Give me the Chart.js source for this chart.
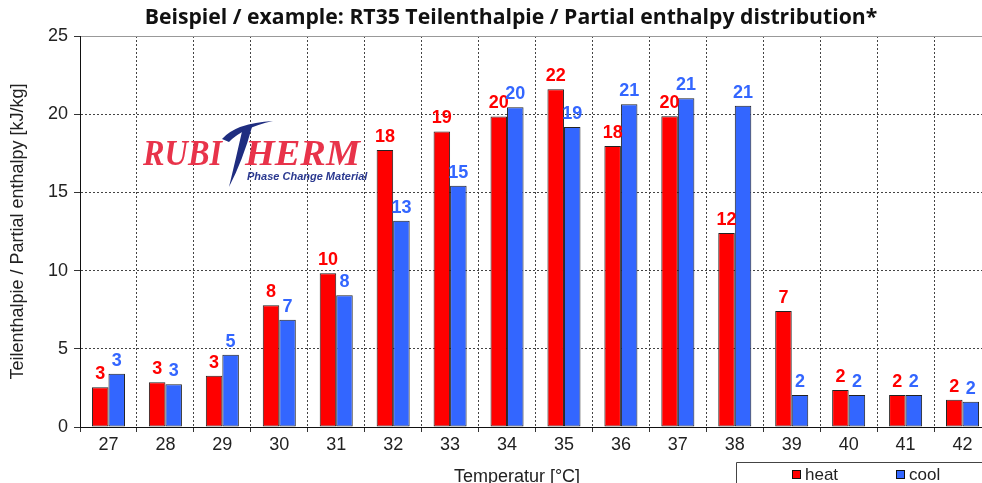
<!DOCTYPE html>
<html>
<head>
<meta charset="utf-8">
<script src="https://cdn.jsdelivr.net/npm/chart.js@4.4.0/dist/chart.umd.min.js"></script>
<style>
  html, body { margin: 0; padding: 0; background: #fff; }
  #wrap { width: 982px; height: 483px; overflow: hidden; }
</style>
</head>
<body>
<div id="wrap"><canvas id="enthalpyChart" width="992" height="483"></canvas></div>
<script>
const temperatures = ['27', '28', '29', '30', '31', '32', '33', '34', '35', '36', '37', '38', '39', '40', '41', '42'];
const heatValues = [2.54, 2.86, 3.28, 7.78, 9.83, 17.71, 18.9, 19.86, 21.59, 17.97, 19.87, 12.4, 7.42, 2.37, 2.05, 1.75];
const coolValues = [3.41, 2.73, 4.62, 6.86, 8.42, 13.19, 15.43, 20.45, 19.18, 20.63, 21.02, 20.54, 2.05, 2.05, 2.05, 1.62];
const yTicks = [0, 5, 10, 15, 20, 25];
const titleText = 'Beispiel / example: RT35 Teilenthalpie / Partial enthalpy distribution*';
const xTitle = 'Temperatur [°C]';

const HEAT = '#ff0000';
const COOL = '#3366ff';
const FONT = '"Liberation Sans", Arial, sans-serif';

// title and x-axis title drawn by hand so they sit where the original has them
const chartTitle = {
  id: 'chartTitle',
  afterDraw(chart) {
    const ctx = chart.ctx;
    ctx.save();
    ctx.font = 'bold 20px "Open Sans", sans-serif';
    const size = 20 * 733 / ctx.measureText(titleText).width;
    ctx.font = 'bold ' + size.toFixed(1) + 'px "Open Sans", sans-serif';
    ctx.fillStyle = '#111';
    ctx.textAlign = 'center';
    ctx.textBaseline = 'middle';
    ctx.fillText(titleText, 511, 18);

    ctx.font = '18px ' + FONT;
    ctx.fillStyle = '#222';
    ctx.textBaseline = 'alphabetic';
    ctx.fillText(xTitle, 517, 482);
    ctx.restore();
  }
};

// Rubitherm logo behind the bars
const logo = {
  id: 'logo',
  beforeDatasetsDraw(chart) {
    const ctx = chart.ctx;
    ctx.save();
    ctx.fillStyle = '#e8334a';
    ctx.font = 'bold italic 36px "Liberation Serif", serif';
    ctx.textBaseline = 'alphabetic';
    let w = ctx.measureText('RUBI').width;
    ctx.save();
    ctx.translate(143, 165);
    ctx.scale(79 / w, 1);
    ctx.fillText('RUBI', 0, 0);
    ctx.restore();
    w = ctx.measureText('HERM').width;
    ctx.save();
    ctx.translate(245, 165);
    ctx.scale(115 / w, 1);
    ctx.fillText('HERM', 0, 0);
    ctx.restore();

    // blue swoosh "T"
    ctx.fillStyle = '#1f2d80';
    ctx.beginPath();
    ctx.moveTo(222, 139);
    ctx.quadraticCurveTo(236, 123, 273, 121);
    ctx.quadraticCurveTo(242, 128, 229, 142);
    ctx.closePath();
    ctx.fill();
    ctx.beginPath();
    ctx.moveTo(243, 127);
    ctx.lineTo(252, 127);
    ctx.quadraticCurveTo(243, 160, 229, 187);
    ctx.quadraticCurveTo(236, 158, 243, 127);
    ctx.closePath();
    ctx.fill();

    ctx.font = 'italic bold 11px ' + FONT;
    ctx.fillStyle = '#2b3990';
    ctx.fillText('Phase Change Material', 247, 180);
    ctx.restore();
  }
};

const valueLabels = {
  id: 'valueLabels',
  afterDatasetsDraw(chart) {
    const ctx = chart.ctx;
    ctx.save();
    ctx.font = 'bold 18px ' + FONT;
    ctx.textAlign = 'center';
    ctx.textBaseline = 'alphabetic';
    chart.data.datasets.forEach((ds, i) => {
      ctx.fillStyle = ds.backgroundColor;
      chart.getDatasetMeta(i).data.forEach((bar, j) => {
        ctx.fillText(String(Math.round(ds.data[j])), bar.x, bar.y - 8);
      });
    });
    ctx.restore();
  }
};

// legend box at bottom right, partly cut off like the original
const legendBox = {
  id: 'legendBox',
  afterDraw(chart) {
    const ctx = chart.ctx;
    ctx.save();
    ctx.strokeStyle = '#444';
    ctx.lineWidth = 1;
    ctx.beginPath();
    ctx.moveTo(736.5, 483);
    ctx.lineTo(736.5, 462.5);
    ctx.lineTo(992, 462.5);
    ctx.stroke();
    const items = [['heat', HEAT, 792], ['cool', COOL, 896]];
    ctx.font = '17px ' + FONT;
    ctx.textBaseline = 'alphabetic';
    items.forEach(([label, color, x]) => {
      ctx.fillStyle = color;
      ctx.fillRect(x, 470, 9, 9);
      ctx.strokeStyle = '#111';
      ctx.strokeRect(x + 0.5, 470.5, 8, 8);
      ctx.fillStyle = '#222';
      ctx.fillText(label, x + 13, 480);
    });
    ctx.restore();
  }
};

const ctx = document.getElementById('enthalpyChart').getContext('2d');
const chart = new Chart(ctx, {
  type: 'bar',
  data: {
    labels: temperatures,
    datasets: [
      {
        label: 'heat',
        data: heatValues,
        backgroundColor: HEAT,
        borderColor: '#222',
        borderWidth: 1,
        borderSkipped: false,
      },
      {
        label: 'cool',
        data: coolValues,
        backgroundColor: COOL,
        borderColor: '#222',
        borderWidth: 1,
        borderSkipped: false,
      },
    ],
  },
  options: {
    responsive: false,
    animation: false,
    layout: { padding: { top: 36, right: 1, left: 0, bottom: 0 } },
    datasets: { bar: { categoryPercentage: 0.58, barPercentage: 1 } },
    plugins: {
      legend: { display: false },
      title: { display: false },
      tooltip: { enabled: false },
    },
    scales: {
      x: {
        type: 'category',
        afterFit: (scale) => { scale.height = 56; },
        grid: {
          offset: true,
          color: '#444',
          lineWidth: 1,
          tickLength: 5,
          tickColor: '#333',
          tickBorderDash: [],
        },
        border: { display: true, color: '#111', width: 1, dash: [2, 2] },
        ticks: { color: '#222', font: { family: FONT, size: 18 }, padding: 2 },
      },
      y: {
        min: 0,
        max: 25,
        afterFit: (scale) => { scale.width = 80; },
        afterBuildTicks: (scale) => { scale.ticks = yTicks.map((v) => ({ value: v })); },
        grid: {
          color: (c) => (c.tick && c.tick.value === 25 ? '#999' : (c.tick && c.tick.value === 0 ? '#111' : '#444')),
          lineWidth: 1,
          tickLength: 6,
          tickColor: '#333',
          tickBorderDash: [],
        },
        border: {
          display: true,
          color: '#111',
          width: 1,
          dash: (c) => (c.tick && (c.tick.value === 25 || c.tick.value === 0) ? [] : [2, 2]),
        },
        ticks: { color: '#222', font: { family: FONT, size: 18 }, padding: 6 },
        title: {
          display: true,
          text: 'Teilenthalpie / Partial enthalpy [kJ/kg]',
          color: '#222',
          font: { family: FONT, size: 18 },
          padding: { top: 7, bottom: 0 },
        },
      },
    },
  },
  plugins: [logo, valueLabels, chartTitle, legendBox],
});
</script>
</body>
</html>
